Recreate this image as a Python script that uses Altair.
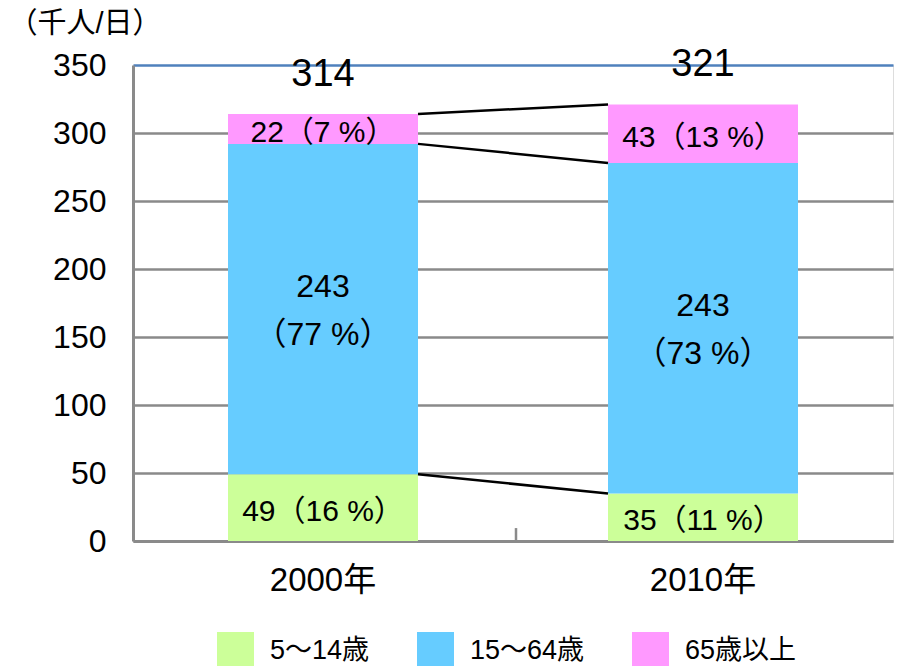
import altair as alt
import pandas as pd

years = ["2000年", "2010年"]
groups = ["5～14歳", "15～64歳", "65歳以上"]
values_2000 = [49, 243, 22]
values_2010 = [35, 243, 43]
shares_2000 = [16, 77, 7]
shares_2010 = [11, 73, 13]
totals = [314, 321]
colors = ["#CCFF99", "#66CCFF", "#FF99FF"]

FONT = "Liberation Sans, Arial, Noto Sans CJK JP"

rows = []
for yr, vals, shs in [(years[0], values_2000, shares_2000), (years[1], values_2010, shares_2010)]:
    for i, (g, v, s) in enumerate(zip(groups, vals, shs)):
        if i == 1:
            lab = f"{v}\n（{s} %）"
        else:
            lab = f"{v}（{s} %）"
        rows.append({"year": yr, "group": g, "order": i, "value": v, "label": lab})
df = pd.DataFrame(rows)

tot_df = pd.DataFrame({"year": years, "total": totals})

# connector lines between cumulative boundaries
cum_a, cum_b = 0, 0
conn = []
for va, vb in zip(values_2000, values_2010):
    cum_a += va
    cum_b += vb
    conn.append({"from": years[0], "to": years[1], "a": cum_a, "b": cum_b})
conn_df = pd.DataFrame(conn)

xscale = alt.Scale(domain=years, paddingInner=0.5, paddingOuter=0.25)
yscale = alt.Scale(domain=[0, 350], nice=False)

base = alt.Chart(df)

bars = base.mark_bar().encode(
    x=alt.X("year:N", scale=xscale, sort=years,
            axis=alt.Axis(title=None, labelAngle=0, ticks=False, domainColor="#8a8a8a",
                          domainWidth=3, labelFontSize=33, labelPadding=23,
                          labelFont=FONT, labelColor="#000", grid=False)),
    y=alt.Y("value:Q", stack="zero", scale=yscale,
            axis=alt.Axis(title="（千人/日）", titleAngle=0, titleAlign="left",
                          titleBaseline="top", titleX=-125, titleY=-56,
                          titleFontSize=29, titleFontWeight="normal", titleFont=FONT,
                          titleColor="#000",
                          values=[0, 50, 100, 150, 200, 250, 300, 350],
                          ticks=False, domainColor="#8a8a8a", domainWidth=3,
                          labelFontSize=32, labelPadding=27, labelFont=FONT,
                          labelColor="#000",
                          gridColor=alt.condition("datum.value == 350", alt.value("#4F81BD"), alt.value("#8a8a8a")),
                          gridWidth=2.5)),
    color=alt.Color("group:N", scale=alt.Scale(domain=groups, range=colors),
                    legend=alt.Legend(title=None, orient="none", legendX=84, legendY=567,
                                      direction="horizontal", symbolType="square",
                                      symbolSize=1369, symbolStrokeWidth=0,
                                      labelFontSize=27, labelFont=FONT, labelColor="#000",
                                      labelOffset=16, columnPadding=47)),
    order=alt.Order("order:Q"),
)

stacked = base.transform_stack(
    stack="value", groupby=["year"], as_=["y0", "y1"],
    sort=[alt.SortField("order", order="ascending")]
).transform_calculate(
    mid="(datum.y0 + datum.y1) / 2"
)

seg_text_single = stacked.transform_filter("datum.order != 1").mark_text(
    fontSize=30, font=FONT, color="#000", baseline="middle", dy=4).encode(
    x=alt.X("year:N", scale=xscale),
    y=alt.Y("mid:Q", scale=yscale),
    text="label:N",
)

seg_text_double = stacked.transform_filter("datum.order == 1").mark_text(
    fontSize=32, font=FONT, color="#000", lineBreak="\n", lineHeight=48,
    baseline="middle", dy=-22).encode(
    x=alt.X("year:N", scale=xscale),
    y=alt.Y("mid:Q", scale=yscale),
    text="label:N",
)

tot_text = alt.Chart(tot_df).mark_text(fontSize=38, font=FONT, color="#000",
                                       baseline="middle", dy=-39).encode(
    x=alt.X("year:N", scale=xscale),
    y=alt.Y("total:Q", scale=yscale),
    text="total:Q",
)

connectors = alt.Chart(conn_df).mark_rule(color="#000", strokeWidth=2.5).encode(
    x=alt.X("from:N", scale=xscale, bandPosition=1),
    x2=alt.X2("to:N", bandPosition=0),
    y=alt.Y("a:Q", scale=yscale),
    y2="b:Q",
)

mid_tick = alt.Chart(pd.DataFrame({"year": [years[0]]})).mark_rule(
    color="#8a8a8a", strokeWidth=2.5, xOffset=98).encode(
    x=alt.X("year:N", scale=xscale, bandPosition=1),
    y=alt.datum(0),
    y2=alt.datum(9.5),
)

chart = alt.layer(bars, connectors, mid_tick, seg_text_single, seg_text_double, tot_text).properties(
    width=760, height=476,
    autosize=alt.AutoSizeParams(type="none"),
    padding={"left": 125, "top": 57, "right": 1, "bottom": 125},
).configure_view(stroke="#4F81BD", strokeWidth=2.5).configure(background="white")

chart.save("out.html", embed_options={"renderer": "svg", "actions": False})
